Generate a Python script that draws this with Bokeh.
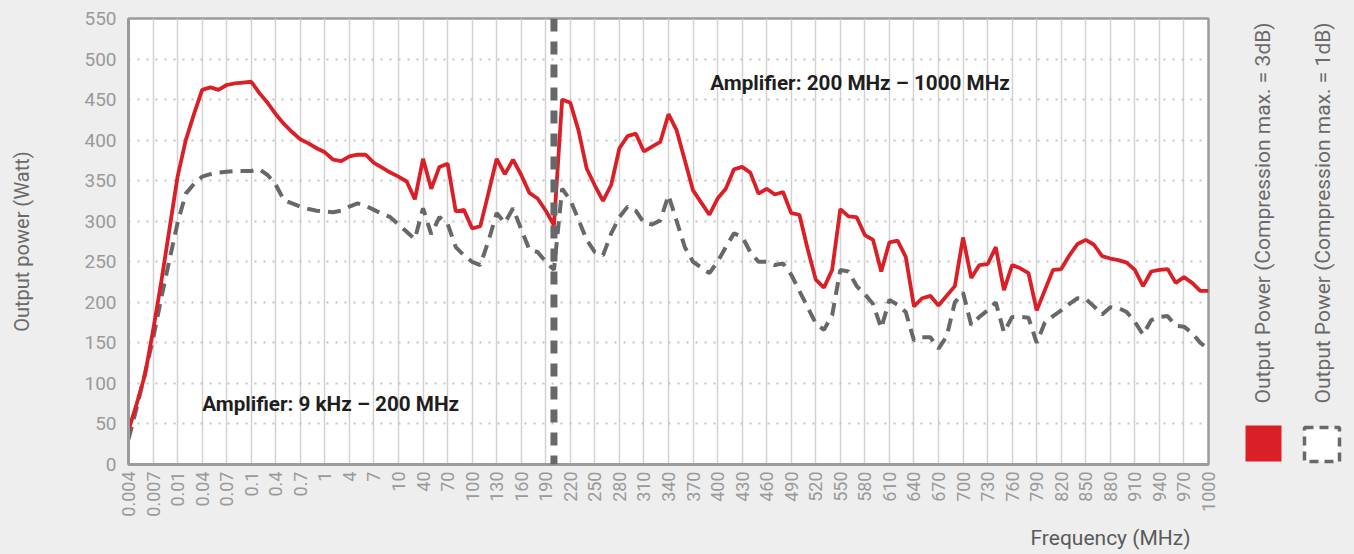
import math
from bokeh.plotting import figure
from bokeh.layouts import row
from bokeh.models import Range1d, FixedTicker, Span, Label, ColumnDataSource, Title
from bokeh.embed import file_html
from bokeh.resources import INLINE

# ---------------- data ----------------
freq_mhz = [0.004, 0.005, 0.006, 0.007, 0.008, 0.009,
            0.01, 0.02, 0.03, 0.04, 0.05, 0.06, 0.07, 0.08, 0.09,
            0.1, 0.2, 0.3, 0.4, 0.5, 0.6, 0.7, 0.8, 0.9,
            1, 2, 3, 4, 5, 6, 7, 8, 9,
            10, 20, 30, 40, 50, 60, 70, 80, 90,
            100, 110, 120, 130, 140, 150, 160, 170, 180, 190,
            200, 210, 220, 230, 240, 250, 260, 270, 280, 290,
            300, 310, 320, 330, 340, 350, 360, 370, 380, 390,
            400, 410, 420, 430, 440, 450, 460, 470, 480, 490,
            500, 510, 520, 530, 540, 550, 560, 570, 580, 590,
            600, 610, 620, 630, 640, 650, 660, 670, 680, 690,
            700, 710, 720, 730, 740, 750, 760, 770, 780, 790,
            800, 810, 820, 830, 840, 850, 860, 870, 880, 890,
            900, 910, 920, 930, 940, 950, 960, 970, 980, 990,
            1000]

tick_labels = ["0.004", "0.007", "0.01", "0.04", "0.07", "0.1", "0.4", "0.7",
               "1", "4", "7", "10", "40", "70", "100", "130", "160", "190",
               "220", "250", "280", "310", "340", "370", "400", "430", "460",
               "490", "520", "550", "580", "610", "640", "670", "700", "730",
               "760", "790", "820", "850", "880", "910", "940", "970", "1000"]

power_3db = [42, 75, 110, 165, 225, 290,
             355, 400, 432, 462, 465, 462, 468, 470, 471,
             472, 458, 446, 432, 420, 410, 401, 396, 390,
             385, 376, 374, 380, 382, 382, 372, 366, 360,
             355, 349, 327, 377, 340, 367, 371, 312, 314,
             291, 294, 335, 377, 358, 376, 357, 335, 328, 313,
             295, 450, 446, 412, 365, 344, 325, 345, 390, 405,
             408, 386, 392, 398, 432, 412, 375, 338, 323, 308,
             328, 340, 364, 367, 360, 334, 340, 333, 336, 310,
             308, 266, 228, 218, 240, 315, 306, 305, 283, 277,
             238, 274, 276, 256, 195, 205, 208, 196, 208, 220,
             280, 230, 246, 247, 268, 215, 246, 242, 236, 190,
             215, 240, 241, 258, 272, 277, 271, 257, 254, 252,
             249, 240, 220, 238, 240, 241, 224, 231, 224, 214,
             214]

power_1db = [31, 70, 112, 155, 205, 252,
             298, 334, 346, 355, 358, 360, 361, 362, 362,
             362, 364, 357, 345, 326, 322, 318, 315, 313,
             312, 311, 313, 318, 322, 319, 314, 309, 305,
             296, 287, 278, 316, 284, 305, 297, 268, 258,
             250, 246, 276, 310, 298, 316, 290, 265, 262, 250,
             240, 340, 326, 302, 277, 262, 258, 285, 305, 318,
             313, 298, 296, 301, 332, 300, 268, 250, 243, 236,
             250, 268, 285, 281, 262, 250, 250, 246, 248, 234,
             214, 194, 174, 166, 184, 240, 238, 220, 210, 198,
             168, 203, 197, 188, 153, 157, 157, 143, 158, 200,
             212, 172, 182, 190, 200, 163, 182, 182, 181, 150,
             175, 183, 190, 198, 205, 204, 195, 185, 194, 193,
             188, 176, 160, 178, 182, 183, 171, 170, 162, 150,
             143]

series_names = ["Output Power (Compression max. = 3dB)",
                "Output Power (Compression max. = 1dB)"]

# ---------------- styling ----------------
FONT = "Roboto"
BG = "#eeeeee"
RED = "#da1f26"
DARK = "#68686b"
AXIS = "#9b9b9b"
TICKTXT = "#9a9a9a"
LABTXT = "#6a6a6a"

pos = list(range(len(freq_mhz)))
tick_pos = [freq_mhz.index(float(t)) for t in tick_labels]
split_pos = freq_mhz.index(200)

src = ColumnDataSource(dict(x=pos, p3=power_3db, p1=power_1db))

p = figure(width=1222, height=554, output_backend="svg", toolbar_location=None,
           x_range=Range1d(0, len(freq_mhz) - 1), y_range=Range1d(0, 550),
           min_border_left=128, min_border_right=14, min_border_top=18,
           min_border_bottom=90)
p.background_fill_color = "white"
p.border_fill_color = BG
p.outline_line_color = AXIS
p.outline_line_width = 2.5

# axes
p.xaxis.ticker = FixedTicker(ticks=tick_pos)
p.xaxis.major_label_overrides = {tp: lab for tp, lab in zip(tick_pos, tick_labels)}
p.xaxis.major_label_orientation = math.pi / 2
p.yaxis.ticker = FixedTicker(ticks=list(range(0, 551, 50)))
for ax in (p.xaxis, p.yaxis):
    ax.axis_line_color = AXIS
    ax.axis_line_width = 3
    ax.major_tick_line_color = None
    ax.minor_tick_line_color = None
    ax.major_tick_out = 0
    ax.major_tick_in = 0
    ax.major_label_text_font = FONT
    ax.major_label_text_color = TICKTXT
p.xaxis.major_label_text_font_size = "18px"
p.xaxis.major_label_standoff = 7
p.yaxis.major_label_text_font_size = "19px"
p.yaxis.major_label_standoff = 12
p.yaxis.axis_label = "Output power (Watt)"
p.yaxis.axis_label_text_font = FONT
p.yaxis.axis_label_text_font_style = "normal"
p.yaxis.axis_label_text_font_size = "20px"
p.yaxis.axis_label_text_color = LABTXT
p.yaxis.axis_label_standoff = 47

# x axis title, bottom right
p.add_layout(Title(text="Frequency (MHz)", align="right", offset=18,
                   text_font=FONT, text_font_size="21px", text_font_style="normal",
                   text_color="#5a5a5a", standoff=8), "below")

# grids
p.xgrid.ticker = FixedTicker(ticks=tick_pos)
p.xgrid.grid_line_color = "#d2d2d2"
p.xgrid.grid_line_width = 1.5
p.ygrid.ticker = FixedTicker(ticks=list(range(50, 551, 50)))
p.ygrid.grid_line_color = "#c4c4c4"
p.ygrid.grid_line_width = 2
p.ygrid.grid_line_dash = "2 7"

# series
p.line("x", "p1", source=src, line_color=DARK, line_width=4, line_dash="13 8")
p.line("x", "p3", source=src, line_color=RED, line_width=3.8)

# amplifier split
p.add_layout(Span(location=split_pos, dimension="height", line_color=DARK,
                  line_width=7, line_dash="13 10"))

# annotations
p.add_layout(Label(x=9.0, y=74, text="Amplifier: 9 kHz \u2013 200 MHz",
                   text_font=FONT, text_font_style="bold",
                   text_font_size="20.7px", text_color="#1e1e1e",
                   text_baseline="middle", text_align="left"))
p.add_layout(Label(x=71.1, y=471, text="Amplifier: 200 MHz \u2013 1000 MHz",
                   text_font=FONT, text_font_style="bold",
                   text_font_size="20.7px", text_color="#1e1e1e",
                   text_baseline="middle", text_align="left"))

# ---------------- legend panel (right) ----------------
# frame is aligned with the main plot frame (page y 18..464), 1 data unit = 1 px
lg = figure(width=132, height=554, output_backend="svg", toolbar_location=None,
            x_range=Range1d(0, 132), y_range=Range1d(90, 536),
            min_border_left=0, min_border_right=0,
            min_border_top=18, min_border_bottom=90)
lg.axis.visible = False
lg.grid.visible = False
lg.outline_line_color = None
lg.background_fill_color = BG
lg.border_fill_color = BG

lg.rect(x=[41], y=[111], width=36, height=36, fill_color=RED, line_color=None)
lg.rect(x=[99.5], y=[110], width=35, height=34, fill_color="white",
        line_color=DARK, line_width=3.5, line_dash="9 6")
lg.text(x=[40, 100], y=[151, 151], text=series_names, angle=math.pi / 2,
        text_font_size="21px", text_color=LABTXT,
        text_align="left", text_baseline="middle", text_font={"value": FONT})

layout = row(p, lg)
html = file_html(layout, INLINE, title="Output power")
html = html.replace("<head>", "<head><style>body{background:#eeeeee}</style>", 1)
open("out.html", "w").write(html)
